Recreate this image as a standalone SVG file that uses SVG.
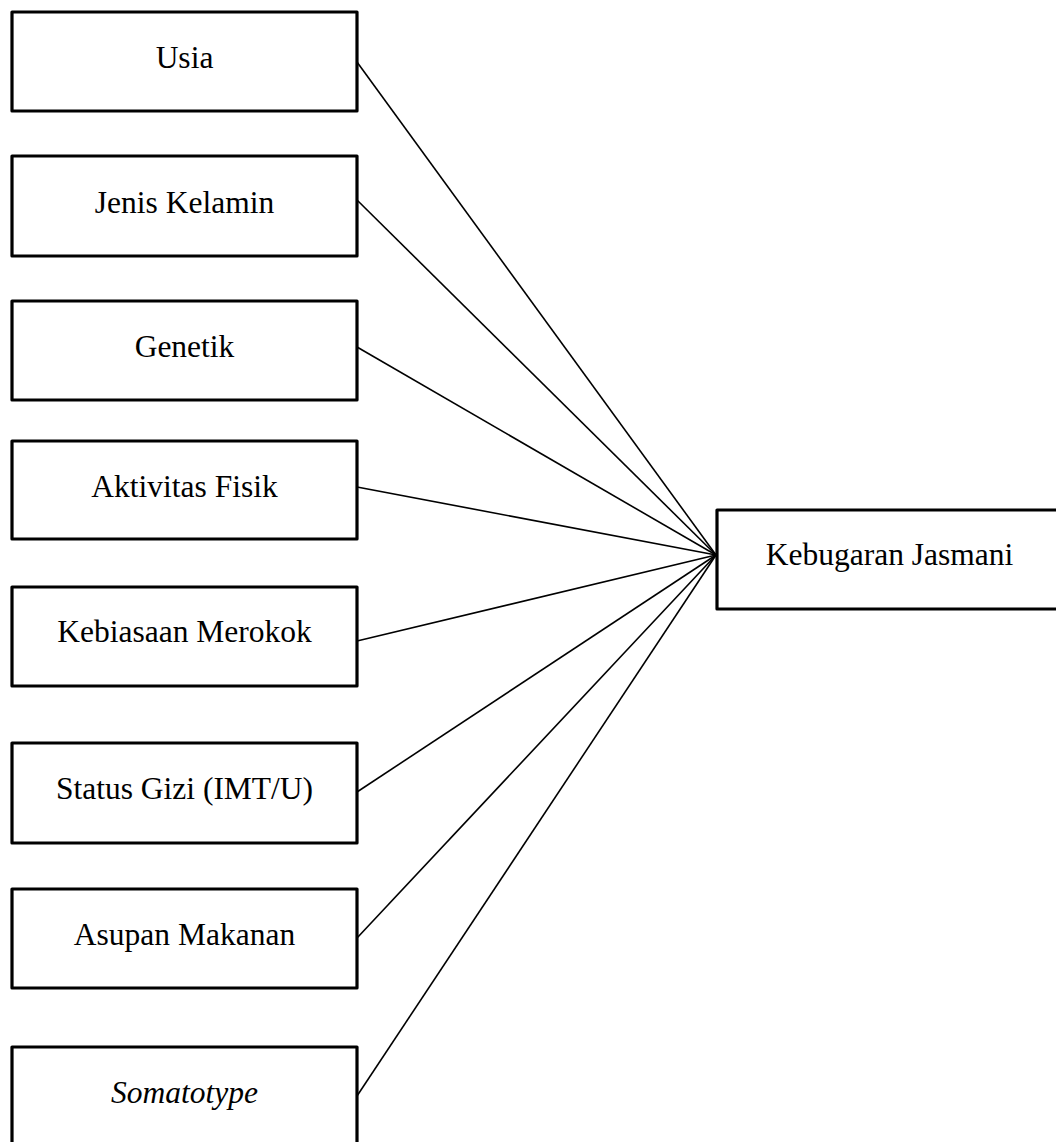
<svg xmlns="http://www.w3.org/2000/svg" width="1056" height="1142" viewBox="0 0 1056 1142">
<style>
.box{fill:#fff;stroke:#000;stroke-width:3.2;stroke-linejoin:round}
.lbl{font-family:"Liberation Serif","Times New Roman",serif;font-size:31.5px;fill:#000;text-anchor:middle}
.it{font-style:italic}
.con line{stroke:#000;stroke-width:1.6}
</style>
<rect width="1056" height="1142" fill="#fff"/>
<g id="connectors" class="con">
<line x1="357" y1="62" x2="716" y2="555"/>
<line x1="357" y1="200" x2="716" y2="555"/>
<line x1="357" y1="347" x2="716" y2="555"/>
<line x1="357" y1="487" x2="716" y2="555"/>
<line x1="357" y1="641" x2="716" y2="555"/>
<line x1="357" y1="792" x2="716" y2="555"/>
<line x1="357" y1="938" x2="716" y2="555"/>
<line x1="357" y1="1096" x2="716" y2="555"/>
</g>
<g id="usia"><rect class="box" x="12" y="12" width="345" height="99"/><text class="lbl" x="184.5" y="68">Usia</text></g>
<g id="jenis-kelamin"><rect class="box" x="12" y="156" width="345" height="100"/><text class="lbl" x="184.5" y="212.5">Jenis Kelamin</text></g>
<g id="genetik"><rect class="box" x="12" y="301" width="345" height="99"/><text class="lbl" x="184.5" y="357">Genetik</text></g>
<g id="aktivitas-fisik"><rect class="box" x="12" y="441" width="345" height="98"/><text class="lbl" x="184.5" y="497">Aktivitas Fisik</text></g>
<g id="kebiasaan-merokok"><rect class="box" x="12" y="587" width="345" height="99"/><text class="lbl" x="184.5" y="642">Kebiasaan Merokok</text></g>
<g id="status-gizi"><rect class="box" x="12" y="743" width="345" height="100"/><text class="lbl" x="184.5" y="799">Status Gizi (IMT/U)</text></g>
<g id="asupan-makanan"><rect class="box" x="12" y="889" width="345" height="99"/><text class="lbl" x="184.5" y="945">Asupan Makanan</text></g>
<g id="somatotype"><rect class="box" x="12" y="1047" width="345" height="99"/><text class="lbl it" x="184.5" y="1103">Somatotype</text></g>
<g id="kebugaran-jasmani"><rect class="box" x="717" y="510" width="350" height="99"/><text class="lbl" x="889.5" y="565">Kebugaran Jasmani</text></g>
</svg>
